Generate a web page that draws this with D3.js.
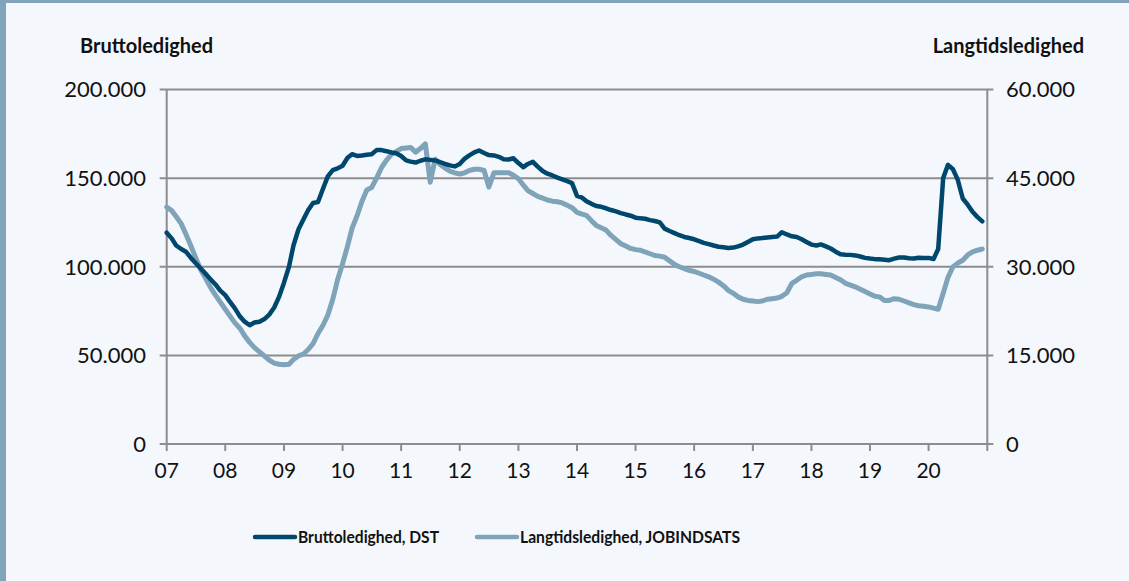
<!DOCTYPE html>
<html>
<head>
<meta charset="utf-8">
<script src="https://cdn.jsdelivr.net/npm/d3@7"></script>
<style>
  html, body { margin: 0; padding: 0; background: #f4f8fc; }
  svg { display: block; font-family: Lato, "Open Sans", sans-serif; }
</style>
</head>
<body>
<svg id="chart" width="1129" height="581"></svg>
<script>
// Bruttoledighed (DST), tusinde personer, månedlig jan 2007 - dec 2020
var brutto = [
  119.2, 116, 112, 110, 108.5, 105, 102, 99, 96, 93, 90, 86.5,
  84, 80, 76.5, 72, 69, 67, 68.5, 69, 70.5, 73, 77, 83,
  91, 100, 112, 121, 126.5, 132, 136, 136.5, 144, 151, 154.5, 155.5,
  157, 161.5, 163.5, 162.5, 162.8, 163.2, 163.5, 165.8, 165.8, 165.2, 164.5, 164,
  162.5, 160, 159.3, 158.8, 159.8, 160.6, 160.3, 160, 159, 158.1, 157.2, 156.6,
  158, 161, 162.8, 164.5, 165.6, 164.2, 163, 162.8, 162, 160.6, 160.5, 161.2,
  158.5, 156.2, 158, 159.2, 156.5, 154, 152.5, 151.5, 150.3, 149.3, 148.3, 147.2,
  140, 139, 137, 135.5, 134.3, 133.8, 133, 132, 131.2, 130.3, 129.5, 128.8,
  127.7, 127.3, 127.1, 126.3, 125.8, 125, 121.5, 120.2, 119, 117.8, 116.8, 116.2,
  115.5, 114.5, 113.5, 112.8, 112, 111.3, 111, 110.6, 110.8, 111.5, 112.5, 114,
  115.5, 116, 116.2, 116.5, 116.8, 117, 119.5, 118.2, 117.2, 116.8, 115.5, 114,
  112.5, 112, 112.6, 111.5, 110.3, 108.5, 107, 106.8, 106.7, 106.4, 105.8, 105,
  104.6, 104.3, 104.2, 104, 103.7, 104.6, 105.2, 105.2, 104.8, 104.7, 105.1, 105,
  105, 104.4, 110, 150, 157.5, 155, 149, 138.5, 135, 131, 128, 125.6
];

// Langtidsledighed (JOBINDSATS), tusinde personer
var langtid = [
  40.1, 39.5, 38.5, 37.3, 35.5, 33.5, 31.5, 29.5, 28.0, 26.5, 25.2, 24.0,
  22.8, 21.6, 20.5, 19.6, 18.3, 17.2, 16.3, 15.6, 14.9, 14.2, 13.7, 13.5,
  13.4, 13.5, 14.3, 14.9, 15.2, 16.0, 17.0, 18.7, 20.1, 21.8, 24.5, 27.8,
  30.5, 33.5, 36.5, 38.6, 41.0, 43.0, 43.4, 45.0, 46.8, 48.0, 49.0, 49.5,
  50.0, 50.1, 50.2, 49.4, 50.0, 50.8, 44.3, 48.2, 47.3, 46.7, 46.2, 45.9,
  45.7, 45.9, 46.3, 46.5, 46.5, 46.3, 43.5, 45.9, 45.9, 45.9, 45.9, 45.5,
  44.9, 43.8, 42.9, 42.4, 41.9, 41.6, 41.3, 41.1, 41.0, 40.8, 40.4, 40.0,
  39.2, 38.9, 38.7, 37.8, 37.0, 36.6, 36.2, 35.3, 34.6, 33.9, 33.5, 33.1,
  32.9, 32.8, 32.5, 32.2, 31.9, 31.8, 31.6, 31.0, 30.4, 30.0, 29.7, 29.4,
  29.2, 28.9, 28.6, 28.3, 27.9, 27.4, 26.8, 26.0, 25.5, 24.9, 24.5, 24.3,
  24.2, 24.1, 24.2, 24.5, 24.6, 24.7, 25.0, 25.6, 27.2, 27.7, 28.3, 28.6,
  28.7, 28.8, 28.8, 28.7, 28.6, 28.2, 27.8, 27.2, 26.9, 26.6, 26.2, 25.8,
  25.4, 25.0, 24.9, 24.3, 24.3, 24.6, 24.5, 24.2, 23.9, 23.6, 23.4, 23.3,
  23.2, 23.0, 22.8, 25.5, 28.2, 30.0, 30.6, 31.1, 32.0, 32.5, 32.8, 33.0
];

var years = d3.range(2007, 2021);           // tick years 07..20
var leftTicks = [0, 50, 100, 150, 200];     // tusinde
var rightTicks = [0, 15, 30, 45, 60];
var seriesNames = ["Bruttoledighed, DST", "Langtidsledighed, JOBINDSATS"];
var colors = ["#00476e", "#7fa3b8"];

var svg = d3.select("#chart");
var W = 1129, H = 581;
var grey = "#8c8c8c";

// frame
svg.append("rect").attr("width", W).attr("height", H).attr("fill", "#f4f8fc");
svg.append("rect").attr("x", 0).attr("y", 0).attr("width", W).attr("height", 3).attr("fill", "#80a4ba");
svg.append("rect").attr("x", 0).attr("y", 0).attr("width", 6).attr("height", H).attr("fill", "#80a4ba");

var plot = { left: 166.7, right: 987.3, top: 89.5, bottom: 444 };

var start = new Date(2007, 0, 1);
var dates = brutto.map(function (d, i) { return d3.timeMonth.offset(start, i); });

var x = d3.scaleTime()
  .domain([start, new Date(2021, 0, 1)])
  .range([plot.left, plot.right]);
var yL = d3.scaleLinear().domain([0, 200]).range([plot.bottom, plot.top]);
var yR = d3.scaleLinear().domain([0, 60]).range([plot.bottom, plot.top]);

var da = d3.formatLocale({ decimal: ",", thousands: ".", grouping: [3], currency: ["", " kr."] });
var fmt = function (v) { return da.format(",")(v * 1000); };

// gridlines
svg.append("g").selectAll("line").data(leftTicks).join("line")
  .attr("x1", plot.left - 7).attr("x2", plot.right + 6)
  .attr("y1", function (d) { return yL(d); }).attr("y2", function (d) { return yL(d); })
  .attr("stroke", grey).attr("stroke-width", 2);

// vertical axis lines
[plot.left, plot.right].forEach(function (px) {
  svg.append("line").attr("x1", px).attr("x2", px)
    .attr("y1", plot.top).attr("y2", plot.bottom + 1)
    .attr("stroke", grey).attr("stroke-width", 2);
});

// x axis ticks
var xTicks = years.map(function (y) { return new Date(y, 0, 1); }).concat([new Date(2021, 0, 1)]);
svg.append("g").selectAll("line").data(xTicks).join("line")
  .attr("x1", function (d) { return x(d); }).attr("x2", function (d) { return x(d); })
  .attr("y1", plot.bottom).attr("y2", plot.bottom + 7)
  .attr("stroke", grey).attr("stroke-width", 2);

svg.append("g").selectAll("text").data(years).join("text")
  .attr("x", function (d) { return x(new Date(d, 0, 1)); })
  .attr("y", 478)
  .attr("text-anchor", "middle")
  .attr("font-size", 21).attr("fill", "#111")
  .text(function (d) { return d3.format("02")(d % 100); });

// y labels
svg.append("g").selectAll("text").data(leftTicks).join("text")
  .attr("x", 146).attr("y", function (d) { return yL(d); })
  .attr("dy", "0.36em").attr("text-anchor", "end")
  .attr("font-size", 22).attr("fill", "#111")
  .text(fmt);

svg.append("g").selectAll("text").data(rightTicks).join("text")
  .attr("x", 1006).attr("y", function (d) { return yR(d); })
  .attr("dy", "0.36em").attr("text-anchor", "start")
  .attr("font-size", 22).attr("fill", "#111")
  .text(fmt);

// axis titles
svg.append("text").attr("x", 80).attr("y", 53)
  .attr("font-size", 20).attr("font-weight", "bold").attr("fill", "#111")
  .text("Bruttoledighed");
svg.append("text").attr("x", 1084).attr("y", 53).attr("text-anchor", "end")
  .attr("font-size", 20).attr("font-weight", "bold").attr("fill", "#111")
  .text("Langtidsledighed");

// lines
var lineL = d3.line().x(function (d, i) { return x(dates[i]); }).y(function (d) { return yL(d); });
var lineR = d3.line().x(function (d, i) { return x(dates[i]); }).y(function (d) { return yR(d); });

svg.append("path").datum(langtid).attr("d", lineR)
  .attr("fill", "none").attr("stroke", colors[1]).attr("stroke-width", 5)
  .attr("stroke-linejoin", "round").attr("stroke-linecap", "round");
svg.append("path").datum(brutto).attr("d", lineL)
  .attr("fill", "none").attr("stroke", colors[0]).attr("stroke-width", 4.5)
  .attr("stroke-linejoin", "round").attr("stroke-linecap", "round");

// legend (text squeezed to the narrow face used in the original)
var legX = [255, 477];
var legW = [141, 220];
var leg = svg.append("g").selectAll("g").data(seriesNames).join("g")
  .attr("transform", function (d, i) { return "translate(" + legX[i] + ",537)"; });
leg.append("line").attr("x1", 0).attr("x2", 40).attr("y1", 0).attr("y2", 0)
  .attr("stroke", function (d, i) { return colors[i]; })
  .attr("stroke-width", 4.5).attr("stroke-linecap", "round");
leg.append("text").attr("x", 43).attr("dy", "0.36em")
  .attr("font-size", 17).attr("font-weight", "bold").attr("fill", "#111")
  .attr("textLength", function (d, i) { return legW[i]; })
  .attr("lengthAdjust", "spacingAndGlyphs")
  .text(function (d) { return d; });
</script>
</body>
</html>
